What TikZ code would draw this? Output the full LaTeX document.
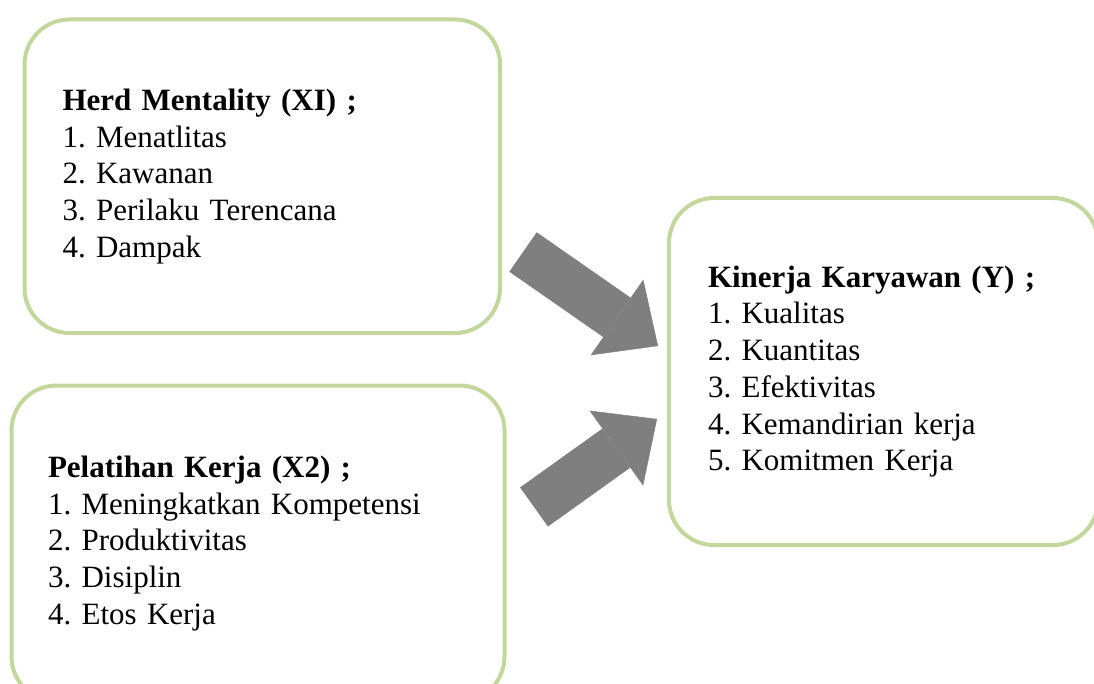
\documentclass[tikz,border=0pt]{standalone}
\usepackage{fontspec}
\setmainfont{Liberation Serif}
\usetikzlibrary{arrows.meta}
\definecolor{boxgreen}{RGB}{195,214,155}
\definecolor{arrowgray}{RGB}{127,127,127}
\frenchspacing

\begin{document}
\begin{tikzpicture}[x=1pt, y=-1pt,
        box/.style={rectangle, draw=boxgreen, line width=4pt, rounded corners=45pt, anchor=north west, outer sep=0pt, inner ysep=0pt, align=left, font=\fontsize{31}{36.7}\selectfont},
        blockarrow/.style={-{Triangle[length=50pt, width=92pt, line width=0.5pt]}, line width=48pt, arrowgray}
    ]
    \useasboundingbox (0,0) rectangle (1094,684);
    \clip (0,0) rectangle (1094,684);

    \node[box, minimum width=475.5pt, minimum height=313.5pt, text width=399.5pt, inner xsep=38pt] (herd) at (24.5,19.5)
        {\textbf{Herd Mentality (XI) ;}\\1. Menatlitas\\2. Kawanan\\3. Perilaku Terencana\\4. Dampak};
    \node[box, minimum width=493pt, minimum height=316pt, text width=420pt, inner xsep=36.5pt] (latih) at (11.5,385.5)
        {\textbf{Pelatihan Kerja (X2) ;}\\1. Meningkatkan Kompetensi\\2. Produktivitas\\3. Disiplin\\4. Etos Kerja};
    \node[box, minimum width=429pt, minimum height=347pt, text width=351pt, inner xsep=39pt] (kinerja) at (669,198)
        {\textbf{Kinerja Karyawan (Y) ;}\\1. Kualitas\\2. Kuantitas\\3. Efektivitas\\4. Kemandirian kerja\\5. Komitmen Kerja};

    % block arrows between the boxes
    \coordinate (herdout) at (523,252);
    \coordinate (herdin) at (658,346);
    \coordinate (latihout) at (534,507);
    \coordinate (latihin) at (657,419);
    \draw[blockarrow] (herdout) -- (herdin);
    \draw[blockarrow] (latihout) -- (latihin);
\end{tikzpicture}
\end{document}
